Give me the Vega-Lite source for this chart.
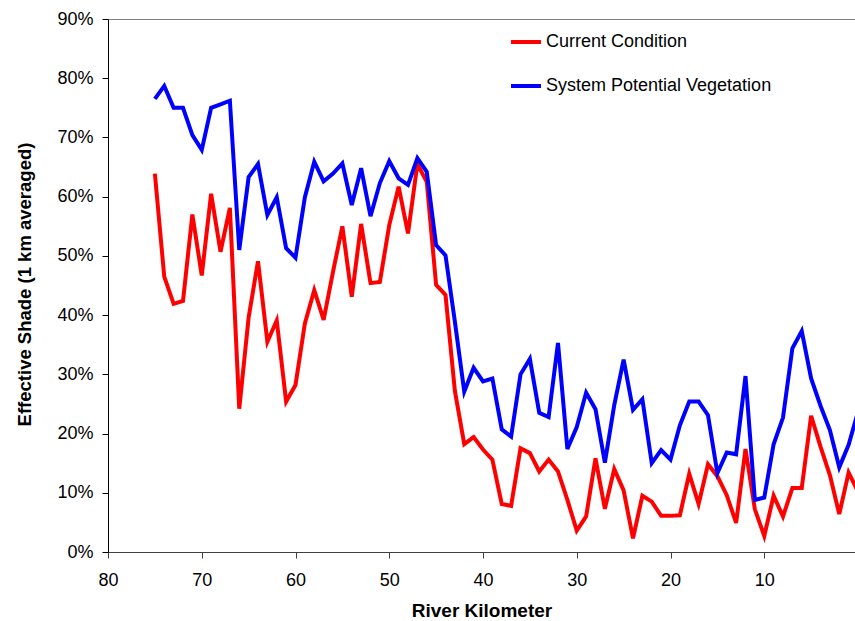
{
  "$schema": "https://vega.github.io/schema/vega-lite/v6.json",
  "width": 747,
  "height": 533,
  "autosize": {"type": "none"},
  "padding": {"left": 108, "top": 19, "right": 0, "bottom": 69},
  "background": "white",
  "config": {
    "font": "Liberation Sans",
    "view": {"stroke": "#808080", "strokeWidth": 1},
    "axis": {
      "grid": false,
      "domainColor": "#000000",
      "domainWidth": 1,
      "tickColor": "#000000",
      "tickSize": 6,
      "labelFontSize": 18,
      "labelColor": "#000000",
      "titleFontSize": 19,
      "titleFontWeight": "bold",
      "titleColor": "#000000"
    }
  },
  "data": {
    "values": [
      {"km": 75, "series": "Current Condition", "shade": 63.9},
      {"km": 74, "series": "Current Condition", "shade": 46.5},
      {"km": 73, "series": "Current Condition", "shade": 41.9},
      {"km": 72, "series": "Current Condition", "shade": 42.4},
      {"km": 71, "series": "Current Condition", "shade": 57.0},
      {"km": 70, "series": "Current Condition", "shade": 46.7},
      {"km": 69, "series": "Current Condition", "shade": 60.5},
      {"km": 68, "series": "Current Condition", "shade": 50.7},
      {"km": 67, "series": "Current Condition", "shade": 58.1},
      {"km": 66, "series": "Current Condition", "shade": 24.2},
      {"km": 65, "series": "Current Condition", "shade": 39.6},
      {"km": 64, "series": "Current Condition", "shade": 49.1},
      {"km": 63, "series": "Current Condition", "shade": 35.5},
      {"km": 62, "series": "Current Condition", "shade": 39.1},
      {"km": 61, "series": "Current Condition", "shade": 25.4},
      {"km": 60, "series": "Current Condition", "shade": 28.2},
      {"km": 59, "series": "Current Condition", "shade": 38.6},
      {"km": 58, "series": "Current Condition", "shade": 44.2},
      {"km": 57, "series": "Current Condition", "shade": 39.2},
      {"km": 56, "series": "Current Condition", "shade": 47.3},
      {"km": 55, "series": "Current Condition", "shade": 55.0},
      {"km": 54, "series": "Current Condition", "shade": 43.1},
      {"km": 53, "series": "Current Condition", "shade": 55.4},
      {"km": 52, "series": "Current Condition", "shade": 45.4},
      {"km": 51, "series": "Current Condition", "shade": 45.6},
      {"km": 50, "series": "Current Condition", "shade": 55.2},
      {"km": 49, "series": "Current Condition", "shade": 61.7},
      {"km": 48, "series": "Current Condition", "shade": 53.8},
      {"km": 47, "series": "Current Condition", "shade": 65.5},
      {"km": 46, "series": "Current Condition", "shade": 62.5},
      {"km": 45, "series": "Current Condition", "shade": 45.1},
      {"km": 44, "series": "Current Condition", "shade": 43.4},
      {"km": 43, "series": "Current Condition", "shade": 27.2},
      {"km": 42, "series": "Current Condition", "shade": 18.2},
      {"km": 41, "series": "Current Condition", "shade": 19.4},
      {"km": 40, "series": "Current Condition", "shade": 17.3},
      {"km": 39, "series": "Current Condition", "shade": 15.6},
      {"km": 38, "series": "Current Condition", "shade": 8.1},
      {"km": 37, "series": "Current Condition", "shade": 7.8},
      {"km": 36, "series": "Current Condition", "shade": 17.5},
      {"km": 35, "series": "Current Condition", "shade": 16.7},
      {"km": 34, "series": "Current Condition", "shade": 13.6},
      {"km": 33, "series": "Current Condition", "shade": 15.6},
      {"km": 32, "series": "Current Condition", "shade": 13.6},
      {"km": 31, "series": "Current Condition", "shade": 8.8},
      {"km": 30, "series": "Current Condition", "shade": 3.6},
      {"km": 29, "series": "Current Condition", "shade": 6.0},
      {"km": 28, "series": "Current Condition", "shade": 15.8},
      {"km": 27, "series": "Current Condition", "shade": 7.3},
      {"km": 26, "series": "Current Condition", "shade": 14.0},
      {"km": 25, "series": "Current Condition", "shade": 10.4},
      {"km": 24, "series": "Current Condition", "shade": 2.3},
      {"km": 23, "series": "Current Condition", "shade": 9.5},
      {"km": 22, "series": "Current Condition", "shade": 8.5},
      {"km": 21, "series": "Current Condition", "shade": 6.1},
      {"km": 20, "series": "Current Condition", "shade": 6.1},
      {"km": 19, "series": "Current Condition", "shade": 6.2},
      {"km": 18, "series": "Current Condition", "shade": 13.2},
      {"km": 17, "series": "Current Condition", "shade": 8.1},
      {"km": 16, "series": "Current Condition", "shade": 14.8},
      {"km": 15, "series": "Current Condition", "shade": 12.8},
      {"km": 14, "series": "Current Condition", "shade": 9.6},
      {"km": 13, "series": "Current Condition", "shade": 4.9},
      {"km": 12, "series": "Current Condition", "shade": 17.4},
      {"km": 11, "series": "Current Condition", "shade": 7.2},
      {"km": 10, "series": "Current Condition", "shade": 2.7},
      {"km": 9, "series": "Current Condition", "shade": 9.5},
      {"km": 8, "series": "Current Condition", "shade": 6.0},
      {"km": 7, "series": "Current Condition", "shade": 10.8},
      {"km": 6, "series": "Current Condition", "shade": 10.8},
      {"km": 5, "series": "Current Condition", "shade": 23.0},
      {"km": 4, "series": "Current Condition", "shade": 17.8},
      {"km": 3, "series": "Current Condition", "shade": 13.0},
      {"km": 2, "series": "Current Condition", "shade": 6.4},
      {"km": 1, "series": "Current Condition", "shade": 13.4},
      {"km": 0, "series": "Current Condition", "shade": 10.2},
      {"km": 75, "series": "System Potential Vegetation", "shade": 76.5},
      {"km": 74, "series": "System Potential Vegetation", "shade": 78.7},
      {"km": 73, "series": "System Potential Vegetation", "shade": 75.0},
      {"km": 72, "series": "System Potential Vegetation", "shade": 75.0},
      {"km": 71, "series": "System Potential Vegetation", "shade": 70.4},
      {"km": 70, "series": "System Potential Vegetation", "shade": 67.9},
      {"km": 69, "series": "System Potential Vegetation", "shade": 75.0},
      {"km": 68, "series": "System Potential Vegetation", "shade": 75.6},
      {"km": 67, "series": "System Potential Vegetation", "shade": 76.2},
      {"km": 66, "series": "System Potential Vegetation", "shade": 51.0},
      {"km": 65, "series": "System Potential Vegetation", "shade": 63.3},
      {"km": 64, "series": "System Potential Vegetation", "shade": 65.5},
      {"km": 63, "series": "System Potential Vegetation", "shade": 56.9},
      {"km": 62, "series": "System Potential Vegetation", "shade": 59.9},
      {"km": 61, "series": "System Potential Vegetation", "shade": 51.3},
      {"km": 60, "series": "System Potential Vegetation", "shade": 49.7},
      {"km": 59, "series": "System Potential Vegetation", "shade": 59.9},
      {"km": 58, "series": "System Potential Vegetation", "shade": 65.9},
      {"km": 57, "series": "System Potential Vegetation", "shade": 62.6},
      {"km": 56, "series": "System Potential Vegetation", "shade": 63.9},
      {"km": 55, "series": "System Potential Vegetation", "shade": 65.6},
      {"km": 54, "series": "System Potential Vegetation", "shade": 58.6},
      {"km": 53, "series": "System Potential Vegetation", "shade": 64.8},
      {"km": 52, "series": "System Potential Vegetation", "shade": 56.7},
      {"km": 51, "series": "System Potential Vegetation", "shade": 62.3},
      {"km": 50, "series": "System Potential Vegetation", "shade": 66.0},
      {"km": 49, "series": "System Potential Vegetation", "shade": 63.1},
      {"km": 48, "series": "System Potential Vegetation", "shade": 62.0},
      {"km": 47, "series": "System Potential Vegetation", "shade": 66.5},
      {"km": 46, "series": "System Potential Vegetation", "shade": 64.2},
      {"km": 45, "series": "System Potential Vegetation", "shade": 51.8},
      {"km": 44, "series": "System Potential Vegetation", "shade": 50.1},
      {"km": 43, "series": "System Potential Vegetation", "shade": 38.9},
      {"km": 42, "series": "System Potential Vegetation", "shade": 27.1},
      {"km": 41, "series": "System Potential Vegetation", "shade": 31.1},
      {"km": 40, "series": "System Potential Vegetation", "shade": 28.8},
      {"km": 39, "series": "System Potential Vegetation", "shade": 29.3},
      {"km": 38, "series": "System Potential Vegetation", "shade": 20.7},
      {"km": 37, "series": "System Potential Vegetation", "shade": 19.5},
      {"km": 36, "series": "System Potential Vegetation", "shade": 30.0},
      {"km": 35, "series": "System Potential Vegetation", "shade": 32.6},
      {"km": 34, "series": "System Potential Vegetation", "shade": 23.5},
      {"km": 33, "series": "System Potential Vegetation", "shade": 22.8},
      {"km": 32, "series": "System Potential Vegetation", "shade": 35.3},
      {"km": 31, "series": "System Potential Vegetation", "shade": 17.4},
      {"km": 30, "series": "System Potential Vegetation", "shade": 21.1},
      {"km": 29, "series": "System Potential Vegetation", "shade": 26.9},
      {"km": 28, "series": "System Potential Vegetation", "shade": 24.1},
      {"km": 27, "series": "System Potential Vegetation", "shade": 15.1},
      {"km": 26, "series": "System Potential Vegetation", "shade": 24.8},
      {"km": 25, "series": "System Potential Vegetation", "shade": 32.5},
      {"km": 24, "series": "System Potential Vegetation", "shade": 24.0},
      {"km": 23, "series": "System Potential Vegetation", "shade": 25.8},
      {"km": 22, "series": "System Potential Vegetation", "shade": 15.0},
      {"km": 21, "series": "System Potential Vegetation", "shade": 17.2},
      {"km": 20, "series": "System Potential Vegetation", "shade": 15.6},
      {"km": 19, "series": "System Potential Vegetation", "shade": 21.4},
      {"km": 18, "series": "System Potential Vegetation", "shade": 25.4},
      {"km": 17, "series": "System Potential Vegetation", "shade": 25.4},
      {"km": 16, "series": "System Potential Vegetation", "shade": 23.1},
      {"km": 15, "series": "System Potential Vegetation", "shade": 13.3},
      {"km": 14, "series": "System Potential Vegetation", "shade": 16.8},
      {"km": 13, "series": "System Potential Vegetation", "shade": 16.5},
      {"km": 12, "series": "System Potential Vegetation", "shade": 29.7},
      {"km": 11, "series": "System Potential Vegetation", "shade": 8.8},
      {"km": 10, "series": "System Potential Vegetation", "shade": 9.2},
      {"km": 9, "series": "System Potential Vegetation", "shade": 18.2},
      {"km": 8, "series": "System Potential Vegetation", "shade": 22.7},
      {"km": 7, "series": "System Potential Vegetation", "shade": 34.4},
      {"km": 6, "series": "System Potential Vegetation", "shade": 37.3},
      {"km": 5, "series": "System Potential Vegetation", "shade": 29.3},
      {"km": 4, "series": "System Potential Vegetation", "shade": 24.7},
      {"km": 3, "series": "System Potential Vegetation", "shade": 20.6},
      {"km": 2, "series": "System Potential Vegetation", "shade": 14.3},
      {"km": 1, "series": "System Potential Vegetation", "shade": 18.1},
      {"km": 0, "series": "System Potential Vegetation", "shade": 23.7}
    ]
  },
  "mark": {"type": "line", "strokeWidth": 4, "clip": true},
  "encoding": {
    "x": {
      "field": "km",
      "type": "quantitative",
      "scale": {"domain": [80, 0.32], "nice": false, "zero": false},
      "axis": {
        "values": [80, 70, 60, 50, 40, 30, 20, 10, 0],
        "title": "River Kilometer",
        "domainColor": "#404040",
        "tickColor": "#404040",
        "labelPadding": 13,
        "labelFlush": false,
        "titleBaseline": "alphabetic",
        "titleY": 64
      }
    },
    "y": {
      "field": "shade",
      "type": "quantitative",
      "scale": {"domain": [0, 90], "nice": false},
      "axis": {
        "values": [0, 10, 20, 30, 40, 50, 60, 70, 80, 90],
        "labelExpr": "datum.value + '%'",
        "labelPadding": 9,
        "title": "Effective Shade (1 km averaged)",
        "titleFontSize": 18.5,
        "titleX": -84,
        "titleY": 265,
        "titleBaseline": "middle"
      }
    },
    "color": {
      "field": "series",
      "type": "nominal",
      "scale": {
        "domain": ["Current Condition", "System Potential Vegetation"],
        "range": ["#FF0000", "#0000FF"]
      },
      "legend": {
        "title": null,
        "orient": "none",
        "legendX": 401,
        "legendY": 6,
        "symbolType": "stroke",
        "symbolSize": 900,
        "symbolStrokeWidth": 4,
        "labelFontSize": 18,
        "labelColor": "#000000",
        "labelOffset": 3,
        "rowPadding": 18,
        "labelLimit": 400
      }
    }
  }
}
